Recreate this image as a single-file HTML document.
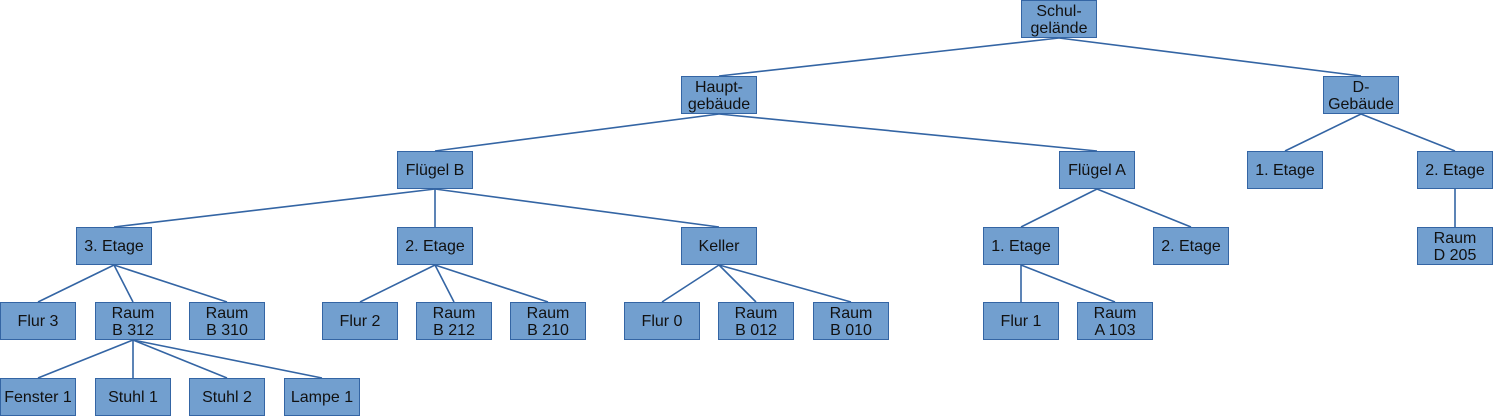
<!DOCTYPE html>
<html><head><meta charset="utf-8"><style>
body{margin:0;width:1494px;height:416px;background:#fff;position:relative;overflow:hidden;font-family:"Liberation Sans",sans-serif}
.b{position:absolute;width:76px;height:38px;background:#729fcf;border:1px solid #3465a4;box-sizing:border-box;display:flex;align-items:center;justify-content:center;text-align:center;font-size:16px;line-height:17px;color:#111;padding-top:1px}
svg{position:absolute;left:0;top:0}
</style></head><body>
<svg width="1494" height="416" id="s"></svg>
<div id="c"></div>
<script>
var N={
S:[1021,0,"Schul-<br>gelände"],H:[681,76,"Haupt-<br>gebäude"],D:[1323,76,"D-<br>Gebäude"],
FB:[397,151,"Flügel B"],FA:[1059,151,"Flügel A"],D1:[1247,151,"1. Etage"],D2:[1417,151,"2. Etage"],
E3:[76,227,"3. Etage"],E2:[397,227,"2. Etage"],K:[681,227,"Keller"],A1:[983,227,"1. Etage"],A2:[1153,227,"2. Etage"],DR:[1417,227,"Raum<br>D 205"],
F3:[0,302,"Flur 3"],R312:[95,302,"Raum<br>B 312"],R310:[189,302,"Raum<br>B 310"],F2:[322,302,"Flur 2"],R212:[416,302,"Raum<br>B 212"],R210:[510,302,"Raum<br>B 210"],
F0:[624,302,"Flur 0"],R012:[718,302,"Raum<br>B 012"],R010:[813,302,"Raum<br>B 010"],F1:[983,302,"Flur 1"],A103:[1077,302,"Raum<br>A 103"],
Fe:[0,378,"Fenster 1"],S1:[95,378,"Stuhl 1"],S2:[189,378,"Stuhl 2"],L1:[284,378,"Lampe 1"]};
var E=[["S","H"],["S","D"],["H","FB"],["H","FA"],["D","D1"],["D","D2"],["FB","E3"],["FB","E2"],["FB","K"],["FA","A1"],["FA","A2"],["D2","DR"],
["E3","F3"],["E3","R312"],["E3","R310"],["E2","F2"],["E2","R212"],["E2","R210"],["K","F0"],["K","R012"],["K","R010"],["A1","F1"],["A1","A103"],
["R312","Fe"],["R312","S1"],["R312","S2"],["R312","L1"]];
var s="",h="";
E.forEach(function(e){var a=N[e[0]],b=N[e[1]];s+='<line x1="'+(a[0]+38)+'" y1="'+(a[1]+38)+'" x2="'+(b[0]+38)+'" y2="'+b[1]+'" stroke="#3465a4" stroke-width="1.6"/>';});
for(var k in N){var n=N[k];h+='<div class="b" style="left:'+n[0]+'px;top:'+n[1]+'px">'+n[2]+'</div>';}
document.getElementById("s").innerHTML=s;document.getElementById("c").innerHTML=h;
</script>
</body></html>
